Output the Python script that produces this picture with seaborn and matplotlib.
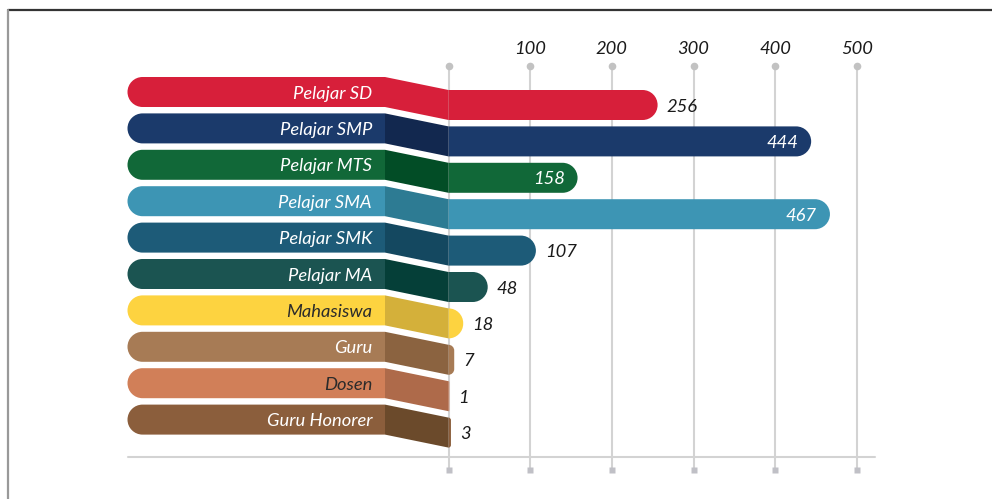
import numpy as np
import pandas as pd
import matplotlib
matplotlib.use('Agg')
import matplotlib.pyplot as plt
from matplotlib.path import Path
from matplotlib.patches import PathPatch, Polygon
import seaborn as sns

# data
categories = ['Pelajar SD', 'Pelajar SMP', 'Pelajar MTS', 'Pelajar SMA', 'Pelajar SMK',
              'Pelajar MA', 'Mahasiswa', 'Guru', 'Dosen', 'Guru Honorer']
values = [256, 444, 158, 467, 107, 48, 18, 7, 1, 3]
bar_colors = ['#d71f3a', '#1b3a6b', '#116838', '#3d95b4', '#1d5b78',
              '#1b5451', '#fdd340', '#a77b55', '#d17f58', '#8b5e3c']
dark_colors = ['#d71f3a', '#12284f', '#024d26', '#2d7b93', '#144860',
               '#053f38', '#d4b03a', '#8b6340', '#ae6a4a', '#6b4a2b']
name_colors = ['white'] * 6 + ['#2b2b2b', 'white', '#2b2b2b', 'white']
inside_labels = ['Pelajar SMP', 'Pelajar MTS', 'Pelajar SMA']
ticks = [100, 200, 300, 400, 500]

W, H = 992, 499
sx = 0.8168   # px per unit value
sy = 36.4     # px per category row
x0px, y0px = 448.5, 105.0

def px2x(px):
    return (px - x0px) / sx

def px2y(py):
    return (py - y0px) / sy

FONT = 'Lato'
FS = 13.2
sns.set_style('white')
plt.rcParams['font.family'] = [FONT, 'DejaVu Sans']

fig = plt.figure(figsize=(W / 100, H / 100), dpi=100)
ax = fig.add_axes([0, 0, 1, 1])

df = pd.DataFrame({'kategori': categories, 'jumlah': values})
sns.barplot(data=df, x='jumlah', y='kategori', hue='kategori', palette=bar_colors,
            legend=False, width=30 / sy, ax=ax, zorder=3)

ax.set_xlim(px2x(0), px2x(W))
ax.set_ylim(px2y(H), px2y(0))
ax.axis('off')

K = 0.5523

def rounded(x0, x1, yt, yb, r_px, left=False):
    """rectangle with one rounded end, radius in pixels"""
    w_px = abs(x1 - x0) * sx
    h_px = abs(yb - yt) * sy
    r = min(r_px, h_px / 2, w_px)
    rx, ry = r / sx, r / sy
    if not left:
        verts = [(x0, yt), (x1 - rx, yt),
                 (x1 - rx + K * rx, yt), (x1, yt + ry - K * ry), (x1, yt + ry),
                 (x1, yb - ry),
                 (x1, yb - ry + K * ry), (x1 - rx + K * rx, yb), (x1 - rx, yb),
                 (x0, yb), (x0, yt)]
    else:
        verts = [(x1, yt), (x0 + rx, yt),
                 (x0 + rx - K * rx, yt), (x0, yt + ry - K * ry), (x0, yt + ry),
                 (x0, yb - ry),
                 (x0, yb - ry + K * ry), (x0 + rx - K * rx, yb), (x0 + rx, yb),
                 (x1, yb), (x1, yt)]
    codes = [Path.MOVETO, Path.LINETO, Path.CURVE4, Path.CURVE4, Path.CURVE4,
             Path.LINETO, Path.CURVE4, Path.CURVE4, Path.CURVE4, Path.LINETO,
             Path.CLOSEPOLY]
    return Path(verts, codes)

# grid lines, dots and squares
grid_vals = [0] + ticks
for v in grid_vals:
    ax.plot([v, v], [px2y(66), px2y(470)], color='#d3d3d3', lw=1.5, zorder=1,
            solid_capstyle='butt')
    ax.plot(v, px2y(66), 'o', ms=5.5, color='#c2c2c2', mec='none', zorder=2)
    ax.plot(v, px2y(470), 's', ms=4.5, color='#c0c0c6', mec='none', zorder=2)
for v in ticks:
    ax.text(v, px2y(49), str(v), ha='center', va='center', fontsize=FS,
            style='italic', color='#1a1a1a')
ax.plot([px2x(128), px2x(875)], [px2y(457), px2y(457)], color='#d3d3d3', lw=1.5, zorder=1)

pill_l, pill_r = px2x(127.5), px2x(385)
shift = 13 / sy
tdown = 1.5 / sy

bars = list(ax.patches)
for i, p in enumerate(bars):
    bx, bw = p.get_x(), p.get_width()
    by, bh = p.get_y(), p.get_height()
    p.set_visible(False)
    yt, yb = by, by + bh
    # value bar
    ax.add_patch(PathPatch(rounded(bx, bx + bw, yt, yb, 15), fc=bar_colors[i], ec='none', zorder=3))
    # label pill
    ax.add_patch(PathPatch(rounded(pill_l, pill_r, yt - shift, yb - shift, 15, left=True),
                           fc=bar_colors[i], ec='none', zorder=3))
    # connector
    ax.add_patch(Polygon([(pill_r, yt - shift), (0, yt), (0, yb), (pill_r, yb - shift)],
                         closed=True, fc=dark_colors[i], ec='none', zorder=3))
    yc = by + bh / 2 + tdown
    ax.text(px2x(372), yc - shift, categories[i], ha='right', va='center',
            fontsize=FS, style='italic', color=name_colors[i], zorder=4)
    if categories[i] in inside_labels:
        ax.text(bx + bw - 13 / sx, yc, str(values[i]), ha='right', va='center',
                fontsize=FS, style='italic', color='white', zorder=4)
    else:
        ax.text(bx + bw + 9 / sx, yc, str(values[i]), ha='left', va='center',
                fontsize=FS, style='italic', color='#1a1a1a', zorder=4)

# frame
fig.add_artist(plt.Line2D([7.5 / W, 1], [1 - 9.5 / H, 1 - 9.5 / H], color='#333333', lw=1.6))
fig.add_artist(plt.Line2D([7.5 / W, 7.5 / W], [0, 1 - 9.5 / H], color='#999999', lw=1.6))

fig.savefig('out.png', dpi=100)
